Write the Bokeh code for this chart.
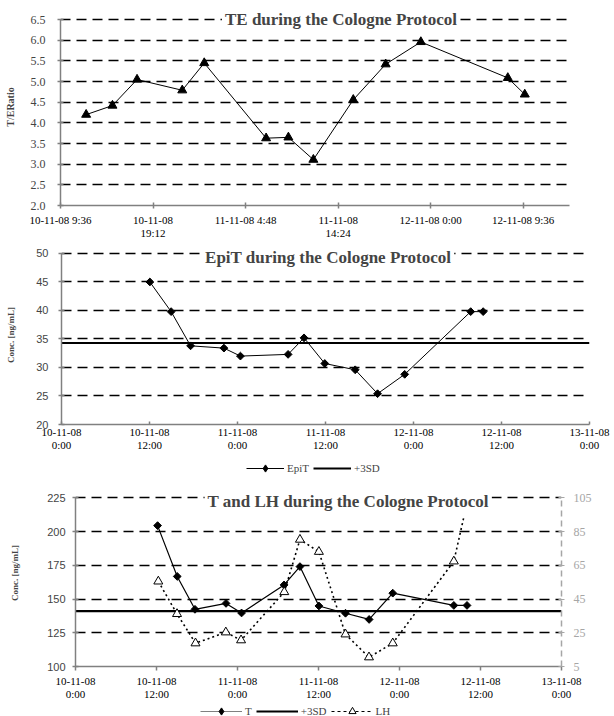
import math
from bokeh.plotting import figure
from bokeh.models import (Range1d, LinearAxis, FixedTicker, Label, Legend,
                          LegendItem, NumeralTickFormatter)
from bokeh.embed import file_html
from bokeh.resources import INLINE

# ---------------- data (hours counted from 10-11-08 0:00) ----------------
te_hours = [12.26, 14.99, 17.54, 22.23, 24.51, 30.93, 33.24, 35.83, 39.97, 43.33, 46.98, 56.0, 57.76]
te_ratio = [4.20, 4.42, 5.05, 4.79, 5.45, 3.63, 3.65, 3.11, 4.56, 5.42, 5.96, 5.09, 4.69]
te_tick_hours = [9.6, 19.2, 28.8, 38.4, 48.0, 57.6]
te_tick_labels = ["10-11-08 9:36", "10-11-08\n19:12", "11-11-08 4:48",
                  "11-11-08\n14:24", "12-11-08 0:00", "12-11-08 9:36"]
te_y_ticks = [2.0, 2.5, 3.0, 3.5, 4.0, 4.5, 5.0, 5.5, 6.0, 6.5]

epit_hours = [12.05, 14.95, 17.6, 22.15, 24.4, 30.9, 33.07, 35.9, 40.05, 43.1, 46.8, 55.8, 57.5]
epit_conc = [45.0, 39.8, 33.8, 33.4, 32.0, 32.3, 35.2, 30.7, 29.6, 25.4, 28.8, 39.8, 39.8]
epit_sd3 = 34.3
epit_y_ticks = [20, 25, 30, 35, 40, 45, 50]

day_tick_hours = [0, 12, 24, 36, 48, 60, 72]
day_tick_labels = ["10-11-08\n0:00", "10-11-08\n12:00", "11-11-08\n0:00", "11-11-08\n12:00",
                   "12-11-08\n0:00", "12-11-08\n12:00", "13-11-08\n0:00"]

t_hours = [12.16, 15.07, 17.7, 22.3, 24.6, 30.9, 33.25, 36.06, 40.0, 43.5, 47.0, 56.05, 58.0]
t_conc = [204.5, 166.8, 142.4, 146.8, 139.7, 160.5, 174.1, 144.9, 139.5, 134.9, 154.4, 145.3, 145.3]
t_sd3 = 141.0
t_y_ticks = [100, 125, 150, 175, 200, 225]

lh_hours = [12.27, 15.04, 17.78, 22.27, 24.53, 30.93, 33.25, 36.06, 40.0, 43.48, 47.0, 56.05, 57.49]
lh_conc = [55.5, 36.2, 18.8, 25.3, 20.6, 49.2, 80.3, 73.1, 24.1, 10.5, 18.8, 67.4, 92.9]
lh_marked = 12  # the last LH sample has no marker in the original
lh_y_ticks = [5, 25, 45, 65, 85, 105]

# ---------------- styling ----------------
SERIF = "Liberation Serif"
SANS = "Liberation Sans"
AXIS_GRAY = "#808080"
RIGHT_GRAY = "#a6a6a6"
W = 614


def make_fig(h, xr, yr, left, right, top, bottom):
    p = figure(width=W, height=h, x_range=xr, y_range=yr, output_backend="svg",
               toolbar_location=None, min_border_left=left, min_border_right=right,
               min_border_top=top, min_border_bottom=bottom)
    p.outline_line_color = None
    p.xgrid.visible = False
    p.ygrid.grid_line_color = "black"
    p.ygrid.grid_line_dash = "10 6"
    p.ygrid.grid_line_width = 1.3
    for ax in (p.xaxis[0], p.yaxis[0]):
        ax.axis_line_color = AXIS_GRAY
        ax.axis_line_width = 1.5
        ax.major_tick_line_color = AXIS_GRAY
        ax.major_tick_line_width = 1.5
        ax.major_tick_in = 3
        ax.major_tick_out = 3
        ax.minor_tick_line_color = None
    xa = p.xaxis[0]
    xa.major_label_text_font = SERIF
    xa.major_label_text_font_size = "11px"
    xa.major_label_text_line_height = 1.1
    xa.major_label_text_color = "black"
    xa.major_label_standoff = 5
    ya = p.yaxis[0]
    ya.axis_label_text_font = SERIF
    ya.axis_label_text_font_style = "bold"
    ya.axis_label_text_font_size = "10px"
    return p


def add_title(p, text, frac, top_value, dy):
    xr = p.x_range
    p.add_layout(Label(x=xr.start + frac * (xr.end - xr.start), y=top_value, y_offset=dy,
                       text=text, text_font=SERIF, text_font_style="bold",
                       text_font_size="17px", text_align="center", text_baseline="middle",
                       background_fill_color="white", padding=3))


def legend_fig(h, items_spec, x_left, y_bottom, glyph_w):
    # legend-only strip; its renderers hold the series but lie outside this strip's ranges
    f = figure(width=W, height=h, x_range=Range1d(-2, -1), y_range=Range1d(-2, -1),
               x_axis_type=None, y_axis_type=None, output_backend="svg",
               toolbar_location=None, min_border=0)
    f.outline_line_color = None
    items = []
    for label, xs, ys, kw_line, kw_marker in items_spec:
        rs = [f.line(xs, ys, **kw_line)]
        if kw_marker:
            rs.append(f.scatter(xs, ys, **kw_marker))
        items.append(LegendItem(label=label, renderers=rs))
    f.add_layout(Legend(items=items, orientation="horizontal", location=(x_left, y_bottom),
                        border_line_color=None, background_fill_alpha=0, padding=0, margin=0,
                        spacing=4, glyph_width=glyph_w, glyph_height=18, label_height=12,
                        label_width=0, label_standoff=3, label_text_font=SERIF,
                        label_text_font_size="11px"))
    return f


DIAMOND = dict(marker="square", angle=math.pi / 4, fill_color="black", line_color="black")
LEG_DIAMOND = dict(marker="diamond", fill_color="black", line_color="black")

# ---------------- chart 1: TE ----------------
te_top_pad = 0.27
p1 = make_fig(244, Range1d(9.6, 62.4), Range1d(te_y_ticks[0], te_y_ticks[-1] + te_top_pad), 60, 45, 8, 39)
p1.xaxis[0].ticker = FixedTicker(ticks=te_tick_hours)
p1.xaxis[0].major_label_overrides = dict(zip(te_tick_hours, te_tick_labels))
p1.yaxis[0].ticker = FixedTicker(ticks=te_y_ticks)
p1.yaxis[0].bounds = (te_y_ticks[0], te_y_ticks[-1])
p1.yaxis[0].formatter = NumeralTickFormatter(format="0.0")
p1.yaxis[0].major_label_text_font = SERIF
p1.yaxis[0].major_label_text_font_size = "12px"
p1.yaxis[0].major_label_standoff = 12
p1.yaxis[0].axis_label = "T/ERatio"
p1.yaxis[0].axis_label_standoff = 12
p1.ygrid[0].ticker = FixedTicker(ticks=te_y_ticks[1:])
p1.line(te_hours, te_ratio, line_color="black", line_width=1)
p1.scatter(te_hours, te_ratio, marker="triangle", size=9, fill_color="black", line_color="black")
add_title(p1, "TE during the Cologne Protocol", 0.551, te_y_ticks[-1], 0)

# ---------------- chart 2: EpiT ----------------
epit_top_pad = 1.4
p2 = make_fig(214, Range1d(0, 72), Range1d(epit_y_ticks[0], epit_y_ticks[-1] + epit_top_pad), 61, 25, 1, 34)
p2.xaxis[0].ticker = FixedTicker(ticks=day_tick_hours)
p2.xaxis[0].major_label_overrides = dict(zip(day_tick_hours, day_tick_labels))
p2.xaxis[0].major_tick_out = 0
p2.xaxis[0].major_label_standoff = 1
p2.yaxis[0].ticker = FixedTicker(ticks=epit_y_ticks)
p2.yaxis[0].bounds = (epit_y_ticks[0], epit_y_ticks[-1])
p2.yaxis[0].major_label_text_font = SANS
p2.yaxis[0].major_label_text_font_size = "11px"
p2.yaxis[0].major_label_standoff = 10
p2.yaxis[0].axis_label = "Conc. [ng/mL]"
p2.yaxis[0].axis_label_text_font_size = "9px"
p2.yaxis[0].axis_label_standoff = 17
p2.ygrid[0].ticker = FixedTicker(ticks=epit_y_ticks[1:])
sd_x2 = [p2.x_range.start, p2.x_range.end]
p2.line(sd_x2, [epit_sd3, epit_sd3], line_color="black", line_width=2.2)
p2.line(epit_hours, epit_conc, line_color="black", line_width=1)
p2.scatter(epit_hours, epit_conc, size=5.5, **DIAMOND)
add_title(p2, "EpiT during the Cologne Protocol", 0.505, epit_y_ticks[-1], -4)

leg2 = legend_fig(20, [("EpiT", epit_hours, epit_conc, dict(line_color="black", line_width=1), dict(LEG_DIAMOND)),
                       ("+3SD", sd_x2, [epit_sd3, epit_sd3], dict(line_color="black", line_width=2.2), None)],
                  246, 1, 38)

# ---------------- chart 3: T and LH ----------------
t_top_pad = 13.7
lh_per_t = (lh_y_ticks[-1] - lh_y_ticks[0]) / (t_y_ticks[-1] - t_y_ticks[0])
p3 = make_fig(224, Range1d(0, 72), Range1d(t_y_ticks[0], t_y_ticks[-1] + t_top_pad), 75, 53, 1, 33)
p3.extra_y_ranges = {"lh": Range1d(lh_y_ticks[0], lh_y_ticks[-1] + t_top_pad * lh_per_t)}
p3.xaxis[0].ticker = FixedTicker(ticks=day_tick_hours)
p3.xaxis[0].major_label_overrides = dict(zip(day_tick_hours, day_tick_labels))
p3.xaxis[0].major_tick_in = 0
p3.xaxis[0].major_tick_out = 4
p3.xaxis[0].major_label_standoff = 4
p3.yaxis[0].ticker = FixedTicker(ticks=t_y_ticks)
p3.yaxis[0].bounds = (t_y_ticks[0], t_y_ticks[-1])
p3.yaxis[0].major_label_text_font = SANS
p3.yaxis[0].major_label_text_font_size = "11px"
p3.yaxis[0].major_label_standoff = 7
p3.yaxis[0].axis_label = "Conc. [ng/mL]"
p3.yaxis[0].axis_label_text_font_size = "9px"
p3.yaxis[0].axis_label_standoff = 24
p3.ygrid[0].ticker = FixedTicker(ticks=t_y_ticks[1:])

ra = LinearAxis(y_range_name="lh", ticker=FixedTicker(ticks=lh_y_ticks), bounds=(lh_y_ticks[0], lh_y_ticks[-1]))
ra.axis_line_color = RIGHT_GRAY
ra.axis_line_width = 1.5
ra.axis_line_dash = "6 4"
ra.major_tick_line_color = RIGHT_GRAY
ra.major_tick_in = 3
ra.major_tick_out = 3
ra.minor_tick_line_color = None
ra.major_label_text_font = SERIF
ra.major_label_text_font_size = "12px"
ra.major_label_text_color = RIGHT_GRAY
ra.major_label_standoff = 9
p3.add_layout(ra, "right")

sd_x3 = [p3.x_range.start, p3.x_range.end]
p3.line(sd_x3, [t_sd3, t_sd3], line_color="black", line_width=2.2)
p3.line(t_hours, t_conc, line_color="black", line_width=1.2)
p3.scatter(t_hours, t_conc, size=5.5, **DIAMOND)
p3.line(lh_hours, lh_conc, y_range_name="lh", line_color="black", line_width=1.6, line_dash="2 3")
p3.scatter(lh_hours[:lh_marked], lh_conc[:lh_marked], y_range_name="lh", marker="triangle",
           size=9, fill_color="white", line_color="black", line_width=1)
add_title(p3, "T and LH during the Cologne Protocol", 0.561, t_y_ticks[-1], -4)

leg3 = legend_fig(14, [("T", t_hours, t_conc, dict(line_color="#808080", line_width=1.2), dict(LEG_DIAMOND)),
                       ("+3SD", sd_x3, [t_sd3, t_sd3], dict(line_color="black", line_width=2.2), None),
                       ("LH", lh_hours, lh_conc, dict(line_color="black", line_width=1.2, line_dash="3 3"),
                        dict(marker="triangle", fill_color="white", line_color="black"))],
                  200, -4, 42)

open("out.html", "w").write(file_html([p1, p2, leg2, p3, leg3], INLINE))
